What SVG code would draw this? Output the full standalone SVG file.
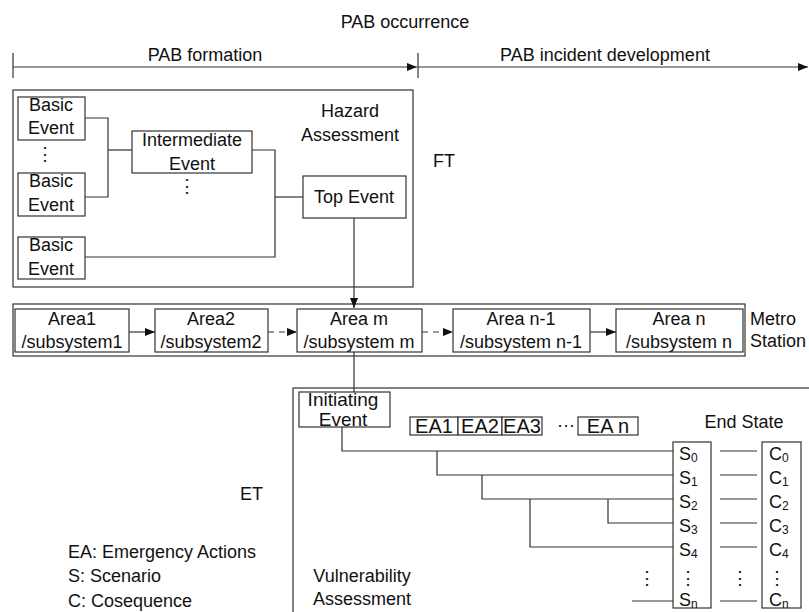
<svg xmlns="http://www.w3.org/2000/svg" width="809" height="612" viewBox="0 0 809 612">
  <style>
    text { font-family: "Liberation Sans", Arial, sans-serif; font-size: 18px; fill: #111; }
    .c { text-anchor: middle; }
    .ea { font-size: 20px; }
    .ie { font-size: 19px; }
    .sub { font-size: 12px; }
    .box { fill: #fff; stroke: #333; stroke-width: 1.2; }
    .frame { fill: none; stroke: #333; stroke-width: 1.2; }
    .ln { fill: none; stroke: #333; stroke-width: 1.2; }
    .dash { fill: none; stroke: #333; stroke-width: 1.2; stroke-dasharray: 6 5; }
  </style>
  <defs>
    <marker id="tri" markerWidth="10" markerHeight="8" refX="10" refY="4" orient="auto" markerUnits="userSpaceOnUse">
      <path d="M0,0 L10,4 L0,8 Z" fill="#111"/>
    </marker>
  </defs>

  <rect width="809" height="612" fill="#fff"/>

  <!-- timeline -->
  <g id="timeline">
    <text class="c" x="405" y="28">PAB occurrence</text>
    <text class="c" x="205" y="61">PAB formation</text>
    <text class="c" x="605" y="61">PAB incident development</text>
    <line class="ln" x1="13" y1="53" x2="13" y2="78"/>
    <line class="ln" x1="418" y1="53" x2="418" y2="78"/>
    <line class="ln" x1="13" y1="67" x2="417" y2="67" marker-end="url(#tri)"/>
    <line class="ln" x1="418" y1="67" x2="808" y2="67" marker-end="url(#tri)"/>
  </g>

  <!-- fault tree frame -->
  <g id="ft-frame">
    <rect class="frame" x="13" y="90" width="400" height="197"/>
    <text class="c" x="350" y="117">Hazard</text>
    <text class="c" x="350" y="141">Assessment</text>
    <text x="433" y="167">FT</text>
  </g>

  <!-- metro station frame -->
  <g id="station-frame">
    <rect class="frame" x="13" y="304" width="732" height="52"/>
    <text x="750" y="325">Metro</text>
    <text x="750" y="347">Station</text>
  </g>

  <!-- event tree frame -->
  <g id="et-frame">
    <rect class="frame" x="293" y="388" width="600" height="300"/>
    <text x="240" y="500">ET</text>
    <text class="c" x="362" y="582">Vulnerability</text>
    <text class="c" x="362" y="605">Assessment</text>
    <text x="744" y="428" class="c">End State</text>
  </g>

  <!-- legend -->
  <g id="legend">
    <text x="68" y="558">EA: Emergency Actions</text>
    <text x="68" y="582">S: Scenario</text>
    <text x="68" y="607">C: Cosequence</text>
  </g>

  <!-- connectors -->
  <g id="connectors">
    <!-- fault tree gates -->
    <polyline class="ln" points="85,118 108,118 108,197 85,197"/>
    <line class="ln" x1="108" y1="150" x2="132" y2="150"/>
    <polyline class="ln" points="252,150 275,150 275,257 85,257"/>
    <line class="ln" x1="275" y1="197" x2="303" y2="197"/>
    <line class="ln" x1="354" y1="218" x2="354" y2="308" marker-end="url(#tri)"/>
    <!-- areas -->
    <line class="ln" x1="129" y1="332" x2="155" y2="332" marker-end="url(#tri)"/>
    <line class="dash" x1="268" y1="332" x2="297" y2="332" marker-end="url(#tri)"/>
    <line class="dash" x1="422" y1="332" x2="453" y2="332" marker-end="url(#tri)"/>
    <line class="ln" x1="590" y1="332" x2="616" y2="332" marker-end="url(#tri)"/>
    <line class="ln" x1="354" y1="352" x2="354" y2="392"/>
    <!-- event tree branches -->
    <polyline class="ln" points="342,427 342,451 673,451"/>
    <polyline class="ln" points="437,451 437,475 673,475"/>
    <polyline class="ln" points="482,475 482,499 673,499"/>
    <polyline class="ln" points="608,499 608,523 673,523"/>
    <polyline class="ln" points="530,499 530,547 673,547"/>
    <line class="ln" x1="632" y1="601" x2="673" y2="601"/>
    <!-- scenario to consequence -->
    <line class="ln" x1="720" y1="451" x2="757" y2="451"/>
    <line class="ln" x1="720" y1="475" x2="757" y2="475"/>
    <line class="ln" x1="720" y1="499" x2="757" y2="499"/>
    <line class="ln" x1="720" y1="523" x2="757" y2="523"/>
    <line class="ln" x1="720" y1="547" x2="757" y2="547"/>
    <line class="ln" x1="720" y1="601" x2="757" y2="601"/>
  </g>

  <!-- fault tree nodes -->
  <g id="basic-event-1">
    <rect class="box" x="18" y="97" width="67" height="43"/>
    <text class="c" x="51" y="111">Basic</text>
    <text class="c" x="51" y="134">Event</text>
  </g>
  <text x="45" y="160" class="c">⋮</text>
  <g id="basic-event-2">
    <rect class="box" x="18" y="173" width="67" height="43"/>
    <text class="c" x="51" y="187">Basic</text>
    <text class="c" x="51" y="211">Event</text>
  </g>
  <g id="basic-event-3">
    <rect class="box" x="18" y="237" width="67" height="42"/>
    <text class="c" x="51" y="251">Basic</text>
    <text class="c" x="51" y="275">Event</text>
  </g>
  <g id="intermediate-event">
    <rect class="box" x="132" y="131" width="120" height="42"/>
    <text class="c" x="192" y="146">Intermediate</text>
    <text class="c" x="192" y="170">Event</text>
  </g>
  <text x="187" y="192" class="c">⋮</text>
  <g id="top-event">
    <rect class="box" x="303" y="176" width="103" height="42"/>
    <text class="c" x="354" y="203">Top Event</text>
  </g>

  <!-- station areas -->
  <g id="area-1">
    <rect class="box" x="15" y="309" width="114" height="43"/>
    <text class="c" x="72" y="325">Area1</text>
    <text class="c" x="72" y="348">/subsystem1</text>
  </g>
  <g id="area-2">
    <rect class="box" x="155" y="309" width="113" height="43"/>
    <text class="c" x="211" y="325">Area2</text>
    <text class="c" x="211" y="348">/subsystem2</text>
  </g>
  <g id="area-m">
    <rect class="box" x="297" y="309" width="125" height="43"/>
    <text class="c" x="359" y="325">Area m</text>
    <text class="c" x="359" y="348">/subsystem m</text>
  </g>
  <g id="area-n-1">
    <rect class="box" x="453" y="309" width="137" height="43"/>
    <text class="c" x="521" y="325">Area n-1</text>
    <text class="c" x="521" y="348">/subsystem n-1</text>
  </g>
  <g id="area-n">
    <rect class="box" x="616" y="309" width="127" height="43"/>
    <text class="c" x="679" y="325">Area n</text>
    <text class="c" x="679" y="348">/subsystem n</text>
  </g>

  <!-- event tree nodes -->
  <g id="initiating-event">
    <rect class="box" x="299" y="392" width="91" height="35"/>
    <text class="c ie" x="343" y="406">Initiating</text>
    <text class="c ie" x="343" y="426">Event</text>
  </g>
  <g id="emergency-actions">
    <rect class="box" x="410" y="417" width="48" height="18"/>
    <rect class="box" x="458" y="417" width="44" height="18"/>
    <rect class="box" x="502" y="417" width="40" height="18"/>
    <rect class="box" x="578" y="417" width="60" height="18"/>
    <text class="c ea" x="434" y="433">EA1</text>
    <text class="c ea" x="480" y="433">EA2</text>
    <text class="c ea" x="522" y="433">EA3</text>
    <text class="c" x="566" y="431">···</text>
    <text class="c ea" x="608" y="433">EA n</text>
  </g>
  <g id="scenarios">
    <rect class="box" x="673" y="442" width="38" height="166"/>
    <text x="679" y="460">S<tspan class="sub" dy="2">0</tspan></text>
    <text x="679" y="484">S<tspan class="sub" dy="2">1</tspan></text>
    <text x="679" y="508">S<tspan class="sub" dy="2">2</tspan></text>
    <text x="679" y="532">S<tspan class="sub" dy="2">3</tspan></text>
    <text x="679" y="556">S<tspan class="sub" dy="2">4</tspan></text>
    <text x="688" y="584" class="c">⋮</text>
    <text x="679" y="606">S<tspan class="sub" dy="2">n</tspan></text>
  </g>
  <text x="647" y="584" class="c">⋮</text>
  <text x="740" y="584" class="c">⋮</text>
  <g id="consequences">
    <rect class="box" x="762" y="442" width="39" height="166"/>
    <text x="769" y="460">C<tspan class="sub" dy="2">0</tspan></text>
    <text x="769" y="484">C<tspan class="sub" dy="2">1</tspan></text>
    <text x="769" y="508">C<tspan class="sub" dy="2">2</tspan></text>
    <text x="769" y="532">C<tspan class="sub" dy="2">3</tspan></text>
    <text x="769" y="556">C<tspan class="sub" dy="2">4</tspan></text>
    <text x="777" y="584" class="c">⋮</text>
    <text x="769" y="606">C<tspan class="sub" dy="2">n</tspan></text>
  </g>
</svg>
